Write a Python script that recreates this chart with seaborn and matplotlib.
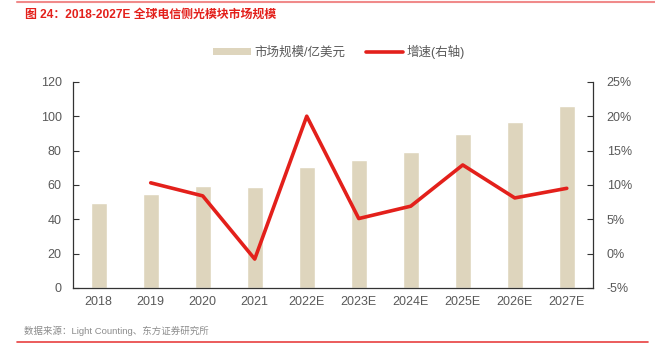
import numpy as np
import pandas as pd
import matplotlib
matplotlib.use("Agg")
import matplotlib.pyplot as plt
import seaborn as sns
from matplotlib.patches import Patch
from matplotlib.lines import Line2D

# 数据
years = ["2018", "2019", "2020", "2021", "2022E", "2023E", "2024E", "2025E", "2026E", "2027E"]
market = [49.7, 54.8, 59.4, 59.0, 70.7, 74.6, 79.4, 89.7, 96.7, 106.0]
growth = [np.nan, 10.3, 8.4, -0.8, 20.0, 5.1, 6.9, 12.9, 8.1, 9.5]  # %

bar_color = "#ded5bd"
line_color = "#e3201b"
text_gray = "#595959"

sns.set_theme(style="white")
plt.rcParams["font.family"] = ["Liberation Sans", "Noto Sans CJK SC", "DejaVu Sans"]

df = pd.DataFrame({"year": years, "market": market, "growth": growth})
df["pos"] = np.arange(len(df))

fig = plt.figure(figsize=(6.55, 3.59), dpi=100)
ax = fig.add_axes([0.111, 0.198, 0.794, 0.574])

sns.barplot(data=df, x="year", y="market", color=bar_color, width=0.31,
            saturation=1, ax=ax)
ax.set_ylim(0, 120)
ax.set_yticks(range(0, 121, 20))
ax.set_xlim(-0.5, len(years) - 0.5)
ax.set_xlabel("")
ax.set_ylabel("")

ax2 = ax.twinx()
sns.lineplot(data=df.dropna(), x="pos", y="growth", color=line_color,
             linewidth=2.6, ax=ax2)
ax2.set_ylim(-5, 25)
ax2.set_yticks(range(-5, 26, 5))
ax2.set_yticklabels([f"{v}%" for v in range(-5, 26, 5)])
ax2.set_ylabel("")
ax2.set_xlim(-0.5, len(years) - 0.5)

for a in (ax, ax2):
    a.spines["top"].set_visible(False)
    for s in ("left", "right", "bottom"):
        a.spines[s].set_color("#333333")
        a.spines[s].set_linewidth(0.9)
    a.tick_params(axis="y", direction="in", length=4, width=0.8,
                  colors="#333333", labelcolor=text_gray, labelsize=9)
ax.spines["right"].set_visible(False)
ax2.spines["left"].set_visible(False)
ax2.spines["bottom"].set_visible(False)

# x 轴刻度放在类别之间
ax.set_xticks(np.arange(len(years)))
ax.set_xticklabels(years)
ax.tick_params(axis="x", length=0, labelcolor=text_gray, labelsize=9, pad=6)
ax.set_xticks(np.arange(len(years) - 1) + 0.5, minor=True)
ax.tick_params(axis="x", which="minor", direction="in", length=4, width=0.8,
               colors="#333333")
ax.tick_params(axis="y", pad=8)
ax2.tick_params(axis="y", pad=10)

# 图例
handles = [Patch(facecolor=bar_color, edgecolor="none"),
           Line2D([0], [0], color=line_color, linewidth=2.6)]
fig.legend(handles, ["市场规模/亿美元", "增速(右轴)"], loc="center",
           bbox_to_anchor=(0.518, 0.855), ncol=2, frameon=False,
           fontsize=9, labelcolor=text_gray, handlelength=3.0, handleheight=0.45,
           columnspacing=1.6, handletextpad=0.3)

# 标题与来源
fig.add_artist(Line2D([0.026, 1.0], [0.995, 0.995], color="#f08a8a", linewidth=1.5))
fig.text(0.038, 0.958, "图 24：2018-2027E 全球电信侧光模块市场规模", color="#e3201b",
         fontsize=8.6, fontweight="bold", va="center", ha="left")
fig.text(0.036, 0.078, "数据来源：Light Counting、东方证券研究所", color="#8c8c8c",
         fontsize=6.8, va="center", ha="left")
fig.add_artist(Line2D([0.026, 0.99], [0.047, 0.047], color="#e84040", linewidth=1.2))

fig.savefig("out.png", dpi=100)
